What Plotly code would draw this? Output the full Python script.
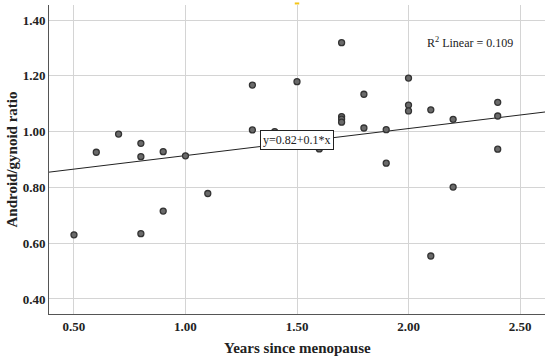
import plotly.graph_objects as go
import numpy as np

years = [0.5, 0.6, 0.7, 0.8, 0.8, 0.8, 0.9, 0.9, 1.0, 1.1, 1.3, 1.3, 1.4, 1.5, 1.6,
         1.7, 1.7, 1.7, 1.7, 1.8, 1.8, 1.9, 1.9, 2.0, 2.0, 2.0, 2.1, 2.1, 2.2, 2.2,
         2.4, 2.4, 2.4]
ratio = [0.630, 0.926, 0.991, 0.958, 0.910, 0.634, 0.928, 0.715, 0.913, 0.778, 1.167, 1.006,
         1.000, 1.179, 0.938, 1.319, 1.054, 1.045, 1.034, 1.134, 1.013, 1.007, 0.887,
         1.192, 1.095, 1.074, 1.078, 0.554, 1.044, 0.801, 1.105, 1.056, 0.937]
intercept = 0.817
slope = 0.097
x_range = [0.388, 2.612]
y_range = [0.346, 1.454]
x_ticks = [0.5, 1.0, 1.5, 2.0, 2.5]
x_tick_labels = ["0.50", "1.00", "1.50", "2.00", "2.50"]
y_ticks = [0.4, 0.6, 0.8, 1.0, 1.2, 1.4]
y_tick_labels = ["0.40", "0.60", "0.80", "1.00", "1.20", "1.40"]

fit_x = np.array(x_range)
fit_y = intercept + slope * fit_x

fig = go.Figure()
fig.add_trace(go.Scatter(x=fit_x, y=fit_y, mode="lines",
                         line=dict(color="#222222", width=1), hoverinfo="skip"))
fig.add_trace(go.Scatter(x=years, y=ratio, mode="markers",
                         marker=dict(size=6, color="#6a6a6a",
                                     line=dict(color="#333333", width=1.3))))

font = "Liberation Serif, Times New Roman, serif"
fig.add_annotation(x=1.5, y=0.97, text="y=0.82+0.1*x", showarrow=False,
                   bgcolor="white", bordercolor="#222222", borderwidth=1, borderpad=2,
                   font=dict(family=font, size=12, color="#222222"))
fig.add_annotation(x=2.276, y=1.318, text="R<sup>2</sup> Linear = 0.109", showarrow=False,
                   font=dict(family=font, size=12, color="#222222"))
fig.add_annotation(xref="paper", yref="paper", x=0.5, y=-0.11, xanchor="center", yanchor="middle",
                   text="<b>Years since menopause</b>",
                   showarrow=False, font=dict(family=font, size=15, color="#222222"))
fig.add_annotation(xref="paper", yref="paper", x=-0.0746, y=0.5, xanchor="center", yanchor="middle",
                   text="<b>Android/gynoid ratio</b>",
                   textangle=-90, showarrow=False,
                   font=dict(family=font, size=15, color="#222222"))
fig.add_shape(type="line", xref="x", yref="paper", x0=1.49, x1=1.51, y0=1.005, y1=1.005,
              line=dict(color="#f5c518", width=2))

fig.update_layout(
    width=550, height=362,
    margin=dict(l=49, r=5, t=5, b=48),
    paper_bgcolor="white", plot_bgcolor="white",
    showlegend=False,
    font=dict(family=font, color="#222222"),
    xaxis=dict(range=x_range, tickvals=x_ticks, ticktext=x_tick_labels,
               showgrid=True, gridcolor="#d4d4d4", gridwidth=1,
               showline=True, linecolor="#555555", linewidth=1, ticks="",
               zeroline=False, automargin=False,
               tickfont=dict(family=font, size=13, color="#222222", weight="bold")),
    yaxis=dict(range=y_range, tickvals=y_ticks, ticktext=y_tick_labels,
               showgrid=True, gridcolor="#d4d4d4", gridwidth=1,
               showline=True, linecolor="#555555", linewidth=1, ticks="",
               zeroline=False, automargin=False,
               tickfont=dict(family=font, size=13, color="#222222", weight="bold")),
)

fig.write_html("out.html", config={"displayModeBar": False},
               post_script="document.body.style.margin='0';document.body.style.overflow='hidden';")
